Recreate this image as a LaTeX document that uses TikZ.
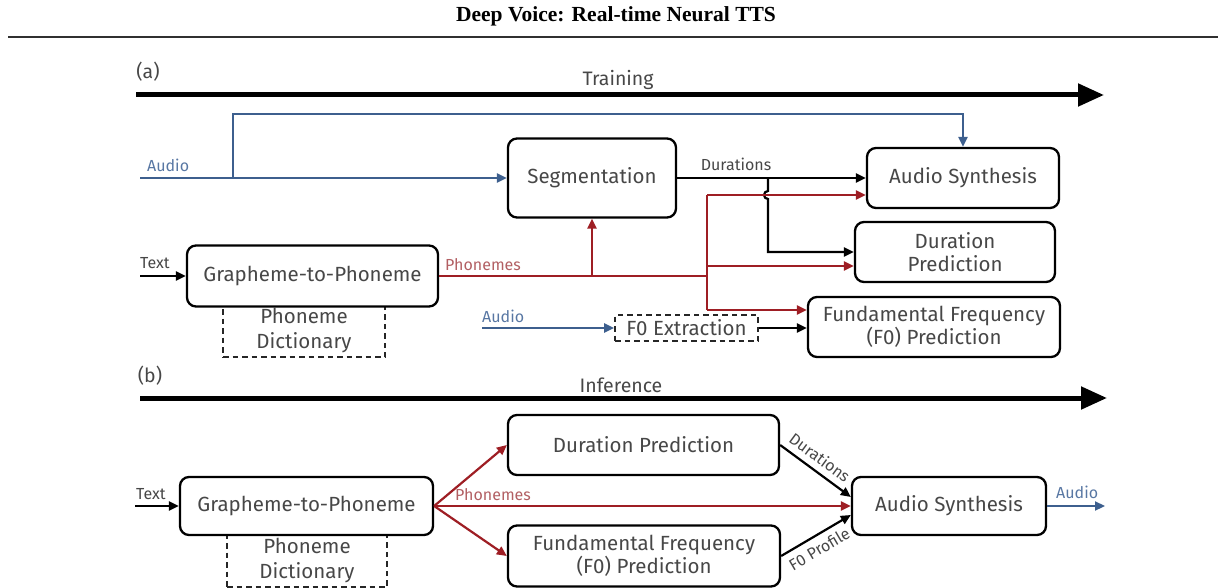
\documentclass[tikz,border=0pt]{standalone}
\usepackage{fontspec}
\setmainfont{Liberation Serif}
\newfontfamily\diagfont{Fira Sans}
\usetikzlibrary{arrows.meta}

\definecolor{audioblue}{HTML}{3D5F8E}
\definecolor{phonred}{HTML}{9E1E24}
\definecolor{boxtext}{HTML}{474747}
\definecolor{bluelabel}{HTML}{5877A3}
\definecolor{redlabel}{HTML}{B25F63}
\definecolor{rulegray}{HTML}{303030}

\begin{document}
\begin{tikzpicture}[x=1pt,y=-1pt,
  blk/.style={draw=black, line width=2.3pt, rounded corners=9pt, fill=white,
    text=boxtext, align=center, inner sep=0pt,
    font=\diagfont\fontsize{20.5}{23.5}\selectfont},
  dictbox/.style={draw=black!85, line width=1.7pt, dash pattern=on 5.5pt off 4pt,
    text=boxtext, align=center, inner sep=0pt,
    font=\diagfont\fontsize{20.5}{25}\selectfont},
  lbl/.style={font=\diagfont\fontsize{16}{18}\selectfont, text=boxtext, inner sep=0pt},
  bluelbl/.style={lbl, text=bluelabel},
  redlbl/.style={lbl, text=redlabel},
  phase/.style={font=\diagfont\fontsize{19.5}{22}\selectfont, text=boxtext, inner sep=0pt},
  tip/.style={-{Triangle[length=10pt,width=9pt]}},
  wire/.style={line width=2.2pt, draw=black},
  bluewire/.style={line width=2.2pt, draw=audioblue},
  redwire/.style={line width=2.2pt, draw=phonred},
  timeline/.style={line width=5pt, draw=black, -{Triangle[length=26pt,width=22pt]}}
]
\useasboundingbox (0,0) rectangle (1218,588);

% page header
\node[font=\bfseries\fontsize{21.5}{24}\selectfont, inner sep=0pt] (title) at (616,16) {Deep Voice: Real-time Neural TTS};
\coordinate (ruleL) at (8,37);
\coordinate (ruleR) at (1218,37);
\draw[rulegray, line width=2.6pt] (ruleL) -- (ruleR);

% ---------------- (a) training ----------------
\node[phase] (tagA) at (148,72) {(a)};
\node[phase] (trainLbl) at (618,80) {Training};
\coordinate (trainS) at (136,95);
\coordinate (trainE) at (1104,95);
\draw[timeline] (trainS) -- (trainE);

\node[dictbox, minimum width=162pt, minimum height=52pt] (dictA) at (304,331) {Phoneme\\Dictionary};
\node[blk, minimum width=251pt, minimum height=61pt] (g2pA) at (312.5,276) {Grapheme-to-Phoneme};
\node[blk, minimum width=168pt, minimum height=79pt] (seg) at (592,178) {Segmentation};
\node[blk, minimum width=192pt, minimum height=60pt] (asA) at (963,178) {Audio Synthesis};
\node[blk, minimum width=200pt, minimum height=60pt] (dpA) at (955,252) {Duration\\Prediction};
\node[blk, minimum width=252pt, minimum height=60pt] (f0pA) at (934,327) {Fundamental Frequency\\(F0) Prediction};
\node[dictbox, minimum width=143pt, minimum height=26pt] (f0e) at (686.5,328) {F0 Extraction};

% audio into segmentation and synthesis
\coordinate (audioInA) at (140,178);
\coordinate (audioFork) at (233,178);
\coordinate (audioTop) at (233,114);
\draw[bluewire, tip] (audioInA) -- (seg.west);
\draw[bluewire, tip] (audioFork) -- (audioTop) -| (asA.north);
\node[bluelbl, anchor=base west] (audioLblA) at (147,172) {Audio};

% durations from segmentation
\coordinate (durSplit) at (768,178);
\draw[wire, tip] (seg.east) -- (asA.west);
\draw[wire, tip] (durSplit) -- ++(0,13) arc[start angle=90, end angle=270, radius=4pt]
  -- (durSplit |- dpA.west) -- (dpA.west);
\node[lbl, anchor=base] (durLblA) at (736,171) {Durations};

% text into grapheme-to-phoneme
\coordinate (textInA) at (140,276);
\draw[wire, tip] (textInA) -- (g2pA.west);
\node[lbl, anchor=base west] (textLblA) at (140,268) {Text};

% phonemes to every model
\coordinate (phSplit) at (707,276);
\coordinate (phTop) at (707,195);
\coordinate (phMid) at (707,266);
\coordinate (phBot) at (707,310);
\draw[redwire] (g2pA.east) -- (phSplit);
\draw[redwire, tip] (seg.south |- g2pA.east) -- (seg.south);
\draw[redwire] (phTop) -- (phBot);
\draw[redwire, tip] (phTop) -- (phTop -| asA.west);
\draw[redwire, tip] (phMid) -- (phMid -| dpA.west);
\draw[redwire, tip] (phBot) -- (phBot -| f0pA.west);
\node[redlbl, anchor=base west] (phLblA) at (445,270) {Phonemes};

% audio into F0 extraction
\coordinate (audioInF0) at (482,328);
\draw[bluewire, tip] (audioInF0) -- (f0e.west);
\draw[wire, tip] (f0e.east) -- (f0e.east -| f0pA.west);
\node[bluelbl, anchor=base west] (audioLblF0) at (482,322) {Audio};

% ---------------- (b) inference ----------------
\node[phase] (tagB) at (150,376) {(b)};
\node[phase] (infLbl) at (621,385) {Inference};
\coordinate (infS) at (140,398);
\coordinate (infE) at (1107,398);
\draw[timeline] (infS) -- (infE);

\node[dictbox, minimum width=160pt, minimum height=52pt] (dictB) at (307,561) {Phoneme\\Dictionary};
\node[blk, minimum width=253pt, minimum height=58pt] (g2pB) at (306.5,506) {Grapheme-to-Phoneme};
\node[blk, minimum width=271pt, minimum height=60pt] (dpB) at (643.5,445) {Duration Prediction};
\node[blk, minimum width=272pt, minimum height=61pt] (f0pB) at (644,556) {Fundamental Frequency\\(F0) Prediction};
\node[blk, minimum width=194pt, minimum height=58pt] (asB) at (949,506) {Audio Synthesis};

\coordinate (textInB) at (135,506);
\draw[wire, tip] (textInB) -- (g2pB.west);
\node[lbl, anchor=base west] (textLblB) at (136,499) {Text};

\draw[redwire, tip] (g2pB.east) -- (dpB.west);
\draw[redwire, tip] (g2pB.east) -- (f0pB.west);
\draw[redwire, tip] (g2pB.east) -- (asB.west);
\node[redlbl, anchor=base west] (phLblB) at (455,500) {Phonemes};

\draw[wire, tip] (dpB.east) -- node[lbl, pos=0.45, sloped, above=6pt] (durLblB) {Durations} ([yshift=9pt]asB.west);
\draw[wire, tip] (f0pB.east) -- node[lbl, pos=0.45, sloped, below=6pt] (f0LblB) {F0 Profile} ([yshift=-9pt]asB.west);

\coordinate (audioOut) at (1105,506);
\draw[bluewire, tip] (asB.east) -- (audioOut);
\node[bluelbl, anchor=base west] (audioLblB) at (1056,498) {Audio};
\end{tikzpicture}
\end{document}
